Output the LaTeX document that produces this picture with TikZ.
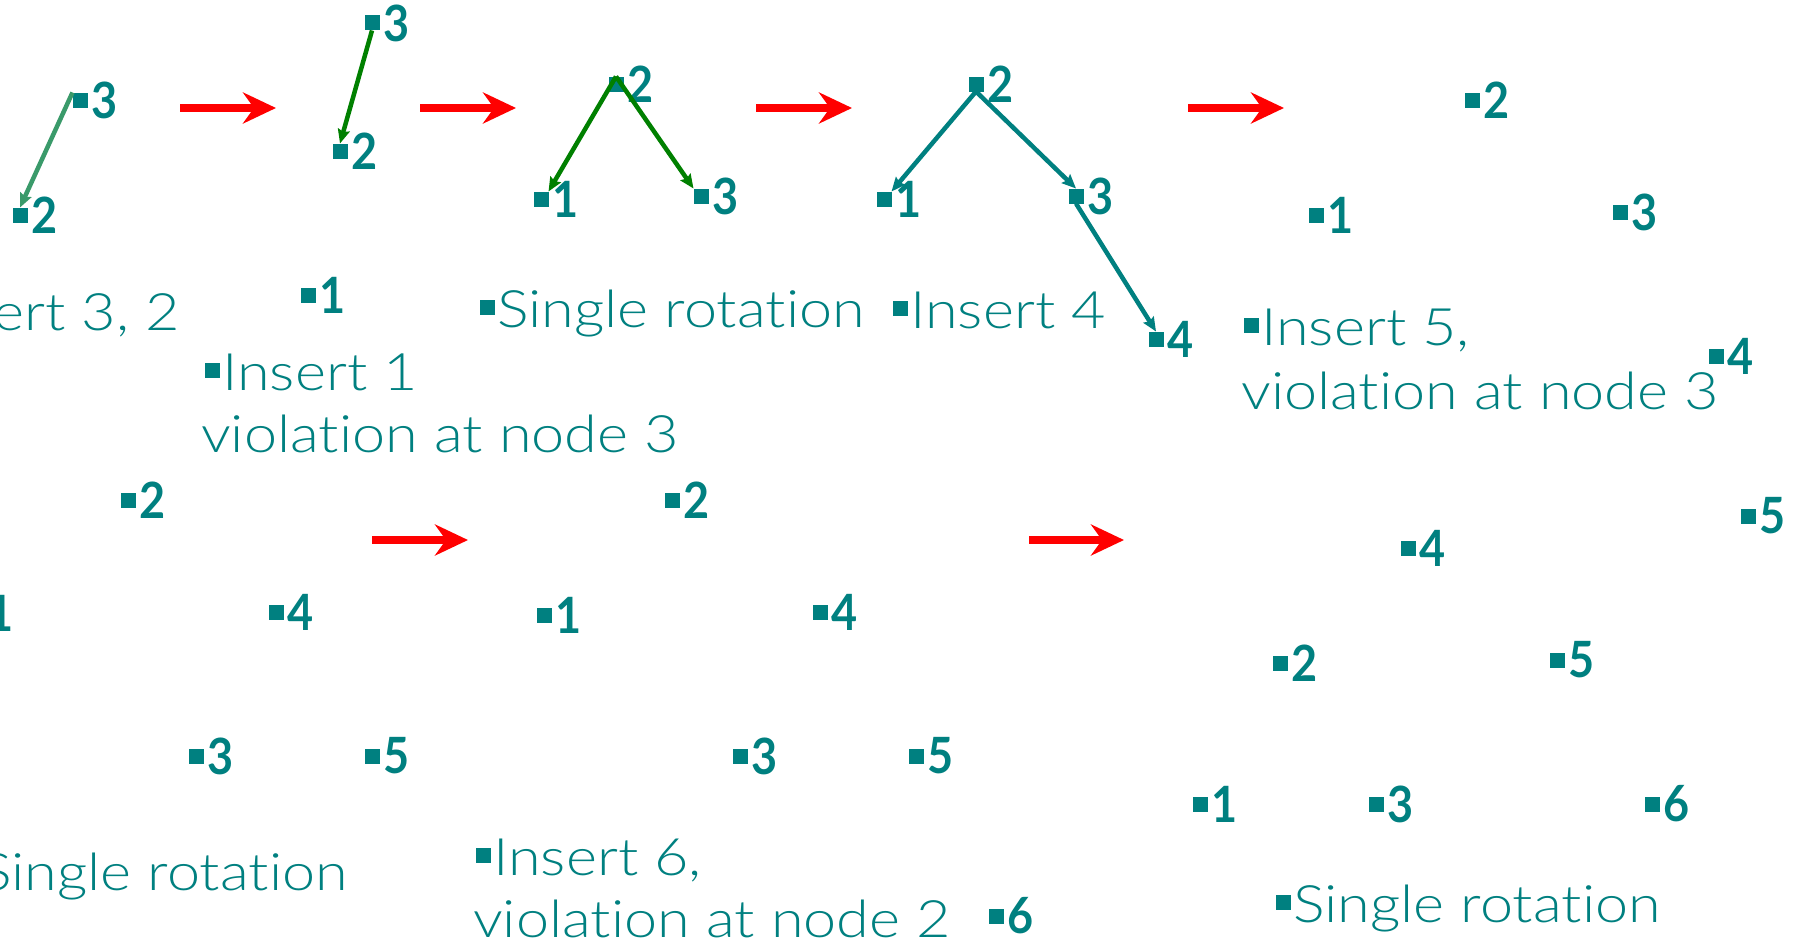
\documentclass[tikz,border=0pt]{standalone}
\usepackage{fontspec}
\setmainfont{Lato Light}[FakeStretch=1.15, Ligatures=NoCommon]
\newfontfamily\digitfont{Lato}[FakeStretch=0.9]
\usetikzlibrary{arrows.meta}
\definecolor{tealc}{HTML}{008080}
\definecolor{greenc}{HTML}{008000}
\definecolor{lightgreenc}{HTML}{3A9A6A}
\definecolor{redc}{HTML}{FF0000}
% small square bullet in front of a caption
\newcommand\bul{\textcolor{tealc}{\rule[12pt]{15pt}{15pt}}\hspace{2pt}}

\begin{document}
\begin{tikzpicture}[x=1pt,y=-1pt,
  label distance=4pt,
  nd/.style={fill=tealc, minimum size=15pt, inner sep=0pt, outer sep=0pt,
    label={[numlab]right:#1}},
  numlab/.style={font=\digitfont\bfseries\fontsize{50}{50}\selectfont,
    text=tealc, inner sep=0pt},
  caption/.style={font=\fontsize{51.6}{58}\selectfont, text=tealc,
    inner sep=0pt},
  redarrow/.style={draw=redc, line width=7.5pt,
    -{Stealth[length=33pt,width=31pt,inset=11pt]}},
  linkarrow/.style={line width=4.5pt,
    -{Stealth[length=14pt,width=12pt,inset=2pt]}},
]
\useasboundingbox[fill=white] (0,0) rectangle (1801,942);

% ---- insert 3, 2
\node[nd=3] (A3) at (80,100) {};
\node[nd=2] (A2) at (20,215) {};
\draw[linkarrow, draw=lightgreenc] (A3.north west) -- (A2.north);
\node[caption, anchor=base east] (capA) at (180,330) {\bul Insert 3, 2};

% ---- insert 1
\node[nd=3] (B3) at (372,23) {};
\node[nd=2] (B2) at (340,151) {};
\node[nd=1] (B1) at (308,295) {};
\draw[linkarrow, draw=greenc] (B3.south) -- (B2.north);
\node[caption, anchor=base west] (capB) at (205,390) {\bul Insert 1};
\node[caption, anchor=base west] (capB2) at (201,452) {violation at node 3};

% ---- single rotation
\node[nd=2] (C2) at (616,84) {};
\node[nd=1] (C1) at (541,199) {};
\node[nd=3] (C3) at (701,196) {};
\draw[linkarrow, draw=greenc] (C2.north) -- (C1.north east);
\draw[linkarrow, draw=greenc] (C2.north) -- (C3.north west);
\node[caption, anchor=base west] (capC) at (480,327) {\bul Single rotation};

% ---- insert 4
\node[nd=2] (D2) at (976,84) {};
\node[nd=1] (D1) at (884,199) {};
\node[nd=3] (D3) at (1076,196) {};
\node[nd=4] (D4) at (1156,339) {};
\draw[linkarrow, draw=tealc] (D2.south) -- (D1.north east);
\draw[linkarrow, draw=tealc] (D2.south) -- (D3.north);
\draw[linkarrow, draw=tealc] (D3.south) -- (D4.north);
\node[caption, anchor=base west] (capD) at (893,328) {\bul Insert 4};

% ---- insert 5
\node[nd=2] (E2) at (1472,100) {};
\node[nd=1] (E1) at (1316,215) {};
\node[nd=3] (E3) at (1620,212) {};
\node[nd=4] (E4) at (1716,356) {};
\node[nd=5] (E5) at (1748,516) {};
\node[caption, anchor=base west] (capE) at (1244,345) {\bul Insert 5,};
\node[caption, anchor=base west] (capE2) at (1241,409) {violation at node 3};

% ---- single rotation
\node[nd=2] (F2) at (128,500) {};
\node[nd=1] (F1) at (-24,613) {};
\node[nd=4] (F4) at (276,612) {};
\node[nd=3] (F3) at (196,756) {};
\node[nd=5] (F5) at (372,756) {};
\node[caption, anchor=base east] (capF) at (348,890) {\bul Single rotation};

% ---- insert 6
\node[nd=2] (G2) at (672,500) {};
\node[nd=1] (G1) at (544,615) {};
\node[nd=4] (G4) at (820,612) {};
\node[nd=3] (G3) at (740,756) {};
\node[nd=5] (G5) at (916,756) {};
\node[nd=6] (G6) at (996,916) {};
\node[caption, anchor=base west] (capG) at (476,875) {\bul Insert 6,};
\node[caption, anchor=base west] (capG2) at (473,937) {violation at node 2};

% ---- single rotation
\node[nd=4] (H4) at (1408,548) {};
\node[nd=2] (H2) at (1280,663) {};
\node[nd=5] (H5) at (1557,660) {};
\node[nd=1] (H1) at (1200,804) {};
\node[nd=3] (H3) at (1376,804) {};
\node[nd=6] (H6) at (1652,804) {};
\node[caption, anchor=base west] (capH) at (1276,922) {\bul Single rotation};

% ---- step arrows
\coordinate (r1a) at (180,108);  \coordinate (r1b) at (276,108);
\coordinate (r2a) at (420,108);  \coordinate (r2b) at (516,108);
\coordinate (r3a) at (756,108);  \coordinate (r3b) at (852,108);
\coordinate (r4a) at (1188,108); \coordinate (r4b) at (1284,108);
\coordinate (r5a) at (372,540);  \coordinate (r5b) at (468,540);
\coordinate (r6a) at (1029,540); \coordinate (r6b) at (1124,540);
\draw[redarrow] (r1a) -- (r1b);
\draw[redarrow] (r2a) -- (r2b);
\draw[redarrow] (r3a) -- (r3b);
\draw[redarrow] (r4a) -- (r4b);
\draw[redarrow] (r5a) -- (r5b);
\draw[redarrow] (r6a) -- (r6b);
\end{tikzpicture}
\end{document}
